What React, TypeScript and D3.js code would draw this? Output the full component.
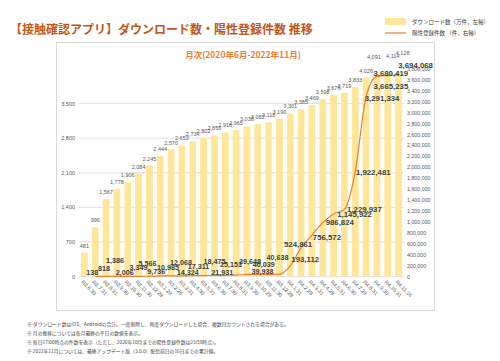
import React from "react";
import * as d3 from "d3";

// 月末時点 (令和表記)
const months = [
  "R2.6.30", "R2.7.31", "R2.8.31", "R2.9.30", "R2.10.30", "R2.11.30", "R2.12.28",
  "R3.1.29", "R3.2.26", "R3.3.31", "R3.4.30", "R3.5.31", "R3.6.30", "R3.7.30",
  "R3.8.31", "R3.9.30", "R3.10.29", "R3.11.30", "R3.12.28", "R4.1.31", "R4.2.28",
  "R4.3.31", "R4.4.28", "R4.5.31", "R4.6.30", "R4.7.29", "R4.8.31", "R4.9.30",
  "R4.10.31", "R4.11.16",
];

// ダウンロード数（万件）
const downloads = [
  481, 996, 1567, 1778, 1906, 2084, 2245, 2444, 2570, 2653, 2734, 2802, 2856, 2916,
  2965, 3038, 3082, 3118, 3190, 3301, 3385, 3469, 3598, 3676, 3719, 3833, 4026, 4091,
  4114, 4128,
];

// 陽性登録件数（件）
const positives: (number | null)[] = [
  null, 138, 818, 1386, 2006, 3349, 5566, 9736, 10985, 12068, 14324, 17311, 18475,
  21931, 25153, 39648, 40039, 39938, 40638, 193112, 524861, 756572, 986824, 1145922,
  1229937, 1922481, 3291334, 3665235, 3680419, 3694068,
];

const leftTicks = [0, 700, 1400, 2100, 2800, 3500];
const rightTicks = d3.range(0, 3800001, 200000);

const notes = [
  "※ ダウンロード数はiOS、Androidの合計。一度削除し、再度ダウンロードした場合、複数回カウントされる場合がある。",
  "※ 月の推移については各月最終の平日の数値を表示。",
  "※ 各日17:00時点の件数を表示（ただし、2020年10月までの陽性登録件数は23:59時点）。",
  "※ 2022年11月については、最終アップデート版（3.0.0）配信前日の16日までの累計値。",
];

// label nudges (styling only), [dx, dy] from the point
const lineLabelNudge: [number, number][] = [
  [0, 0], [-3, -4], [-2, -8], [-2, -16], [-3, -4], [0, -9], [-2, -13], [-4, -4],
  [-3, -8], [-1, -13], [-5, -3], [-5, -9], [0, -14], [-3, -3], [-5, -11], [3, -13],
  [6, -10], [-6, -3], [-2, -17], [15, -6], [-3, -3], [15, 2], [17, 0], [21, 1],
  [20, 0], [18, 1], [16, 2], [14, 10], [3, -2], [17, -9],
];
const barLabelNudge: [number, number][] = months.map((_, i) =>
  i === 27 ? [-3, -17] : i === 28 ? [5, -17] : i === 29 ? [4, -20] : [0, -7]
);

const W = 500;
const H = 361;
const cjk = "'Noto Sans CJK JP', sans-serif";
const num = "'Liberation Sans', Arial, sans-serif";

export default function App() {
  const x = d3.scaleBand().domain(months).range([79, 404]).paddingInner(0.38).paddingOuter(0.19);
  const yL = d3.scaleLinear().domain([0, 4200]).range([276.5, 69]);
  const yR = d3.scaleLinear().domain([0, 3800000]).range([276.5, 69]);
  const cx = (i: number) => (x(months[i]) as number) + x.bandwidth() / 2;

  const line = d3
    .line<number | null>()
    .defined((d) => d !== null)
    .x((_, i) => cx(i))
    .y((d) => yR(d as number))
    .curve(d3.curveMonotoneX);

  return (
    <svg width={W} height={H} style={{ position: "absolute", left: 0, top: 0, background: "#fff" }}>
      <text x={10} y={28} fontFamily={cjk} fontWeight="bold" fontSize={12} fill="#c0561a" dominantBaseline="central">
        【接触確認アプリ】ダウンロード数・陽性登録件数 推移
      </text>

      {/* legend */}
      <rect x={385} y={18} width={21} height={7} fill="#ffe699" />
      <text x={412} y={21.5} fontFamily={cjk} fontSize={5.5} fill="#404040" dominantBaseline="central">
        ダウンロード数（万件，左軸）
      </text>
      <line x1={385} x2={406} y1={33} y2={33} stroke="#ed7d31" strokeWidth={1.2} />
      <text x={412} y={33} fontFamily={cjk} fontSize={5.5} fill="#404040" dominantBaseline="central">
        陽性登録件数 （件，右軸）
      </text>

      <rect x={56.5} y={42.5} width={378} height={268} fill="none" stroke="#d9d9d9" />
      <text x={243} y={54} textAnchor="middle" fontFamily={cjk} fontWeight="bold" fontSize={8.5} fill="#ed7d31" dominantBaseline="central">
        月次(2020年6月-2022年11月)
      </text>

      {leftTicks.map((t) => (
        <g key={t}>
          <line x1={79} x2={404} y1={yL(t)} y2={yL(t)} stroke="#d9d9d9" strokeWidth={0.8} />
          <text x={75} y={yL(t)} textAnchor="end" fontFamily={num} fontSize={5.5} fill="#595959" dominantBaseline="central">
            {d3.format(",")(t)}
          </text>
        </g>
      ))}
      {rightTicks.map((t) => (
        <text key={t} x={407} y={yR(t)} fontFamily={num} fontSize={5.3} fill="#595959" dominantBaseline="central">
          {d3.format(",")(t)}
        </text>
      ))}

      {downloads.map((v, i) => (
        <rect key={i} x={x(months[i])} y={yL(v)} width={x.bandwidth()} height={yL(0) - yL(v)} fill="#ffe699" />
      ))}
      {downloads.map((v, i) => (
        <text key={i} x={cx(i) + barLabelNudge[i][0]} y={yL(v) + barLabelNudge[i][1]} textAnchor="middle"
          fontFamily={num} fontSize={5.5} fill="#595959" dominantBaseline="central">
          {d3.format(",")(v)}
        </text>
      ))}

      <path d={line(positives) || ""} fill="none" stroke="#ed7d31" strokeWidth={1.2} />
      {positives.map((v, i) =>
        v === null ? null : (
          <text key={i} x={cx(i) + lineLabelNudge[i][0]} y={yR(v) + lineLabelNudge[i][1]} textAnchor="middle"
            fontFamily={num} fontWeight="bold" fontSize={i > 18 ? 7.8 : 7.2} fill="#404040" dominantBaseline="central">
            {d3.format(",")(v)}
          </text>
        )
      )}

      {months.map((m, i) => (
        <text key={m} transform={`translate(${cx(i) - 2},${281}) rotate(45)`} fontFamily={num} fontSize={5.3}
          fill="#595959" dominantBaseline="central">
          {m}
        </text>
      ))}

      {notes.map((n, i) => (
        <text key={i} x={27} y={323 + i * 9.3} fontFamily={cjk} fontSize={4.8} fill="#404040" dominantBaseline="central">
          {n}
        </text>
      ))}
    </svg>
  );
}
